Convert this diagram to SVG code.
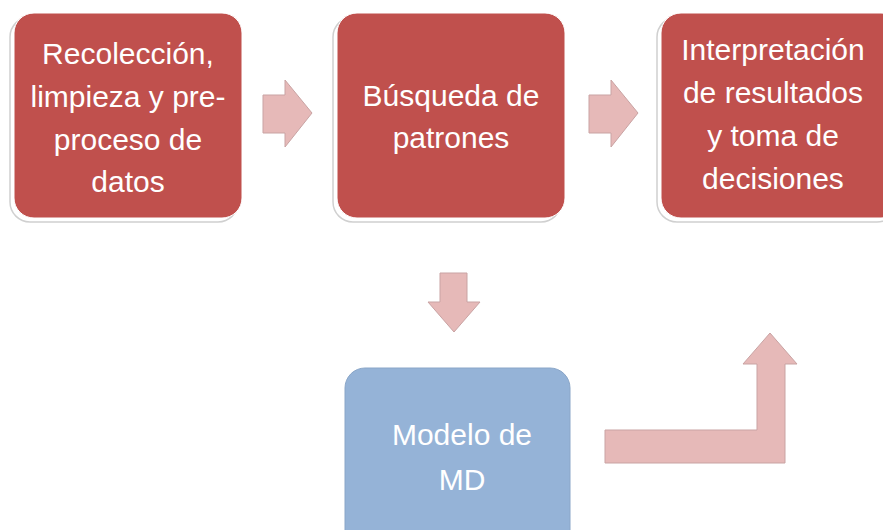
<svg xmlns="http://www.w3.org/2000/svg" width="883" height="530" viewBox="0 0 883 530">
<style>
.shadow{fill:#ffffff;stroke:#d0d0d0;stroke-width:1.5}
.red{fill:#C0504D;stroke:#ffffff;stroke-width:1}
.blue{fill:#95B3D7;stroke:#8aa6c8;stroke-width:1}
.arrow{fill:#E6B9B8;stroke:#c9a3a3;stroke-width:1}
text{font-family:"Liberation Sans",Arial,sans-serif;font-size:30px;fill:#ffffff;text-anchor:middle}
</style>
<rect width="883" height="530" fill="#ffffff"/>
<g id="node-recoleccion">
<rect class="shadow" x="10" y="17" width="228" height="205" rx="20"/>
<rect class="red" x="14" y="13" width="228" height="205" rx="20"/>
<text x="128" y="64">Recolección,</text>
<text x="128" y="107">limpieza y pre-</text>
<text x="128" y="150">proceso de</text>
<text x="128" y="192">datos</text>
</g>
<g id="node-busqueda">
<rect class="shadow" x="333" y="17" width="228" height="205" rx="20"/>
<rect class="red" x="337" y="13" width="228" height="205" rx="20"/>
<text x="451" y="106">Búsqueda de</text>
<text x="451" y="148">patrones</text>
</g>
<g id="node-interpretacion">
<rect class="shadow" x="657" y="17" width="240" height="205" rx="20"/>
<rect class="red" x="661" y="13" width="240" height="205" rx="20"/>
<text x="773" y="60">Interpretación</text>
<text x="773" y="103">de resultados</text>
<text x="773" y="146">y toma de</text>
<text x="773" y="189">decisiones</text>
</g>
<g id="node-modelo">
<rect class="blue" x="345" y="368" width="225" height="190" rx="20"/>
<text x="462" y="445">Modelo de</text>
<text x="462" y="490">MD</text>
</g>
<g id="connectors">
<polygon class="arrow" points="263,95 285,95 285,80 312,113 285,147 285,133 263,133"/>
<polygon class="arrow" points="589,95 611,95 611,80 638,113 611,147 611,133 589,133"/>
<polygon class="arrow" points="440,273 467,273 467,302 480,302 454,332 428,302 440,302"/>
<polygon class="arrow" points="605,430 757,430 757,364 743,364 770,333 797,364 785,364 785,463 605,463"/>
</g>
</svg>
